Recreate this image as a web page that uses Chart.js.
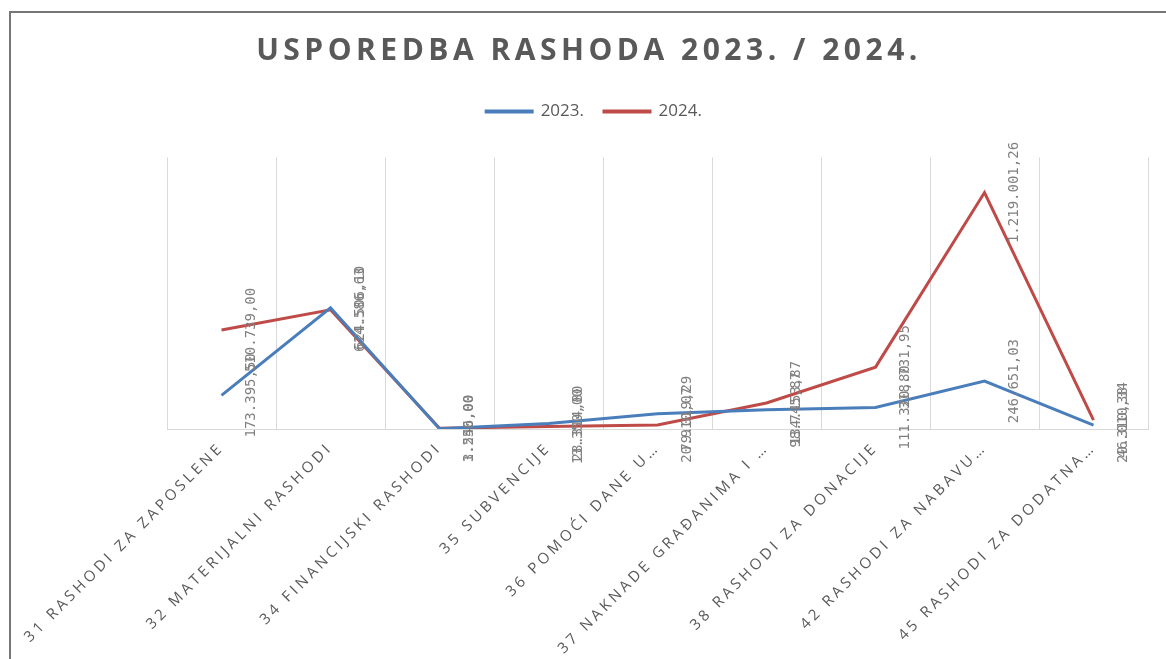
<!DOCTYPE html>
<html>
<head>
<meta charset="utf-8">
<script src="https://cdn.jsdelivr.net/npm/chart.js@4.4.0/dist/chart.umd.min.js"></script>
<style>
  html, body { margin: 0; padding: 0; background: #fff; overflow: hidden; }
  #wrap { position: relative; width: 1166px; height: 659px; }
  #frame { position: absolute; left: 9px; top: 11px; width: 1200px; height: 700px;
    border-top: 2px solid #767676; border-left: 2px solid #767676; pointer-events: none; }
</style>
</head>
<body>
<div id="wrap">
  <canvas id="myChart" width="1166" height="659"></canvas>
  <div id="frame"></div>
</div>
<script>
const labels = [
  "31 RASHODI ZA ZAPOSLENE",
  "32 MATERIJALNI RASHODI",
  "34 FINANCIJSKI RASHODI",
  "35 SUBVENCIJE",
  "36 POMOĆI DANE U…",
  "37 NAKNADE GRAĐANIMA I …",
  "38 RASHODI ZA DONACIJE",
  "42 RASHODI ZA NABAVU…",
  "45 RASHODI ZA DODATNA…",
];
const values2023 = [173395.5, 624506.1, 1250.0, 28314.8, 79019.29, 98745.87, 111320.8, 246651.03, 20310.38];
const values2024 = [510739.0, 614586.63, 3546.0, 13350.0, 20910.07, 134153.87, 318731.95, 1219001.26, 46010.34];

// 1219001.26 -> "1.219.001,26"
function formatHr(v) {
  const parts = v.toFixed(2).split(".");
  const whole = parts[0].replace(/\B(?=(\d{3})+(?!\d))/g, ".");
  return whole + "," + parts[1];
}

// excel style vertical value labels, right of each point
const valueLabels = {
  id: "valueLabels",
  afterDatasetsDraw(chart) {
    const ctx = chart.ctx;
    ctx.save();
    ctx.letterSpacing = "0px";
    ctx.font = '14px "DejaVu Sans Mono"';
    ctx.fillStyle = "#808080";
    ctx.textAlign = "center";
    ctx.textBaseline = "middle";
    chart.data.datasets.forEach((ds, i) => {
      chart.getDatasetMeta(i).data.forEach((pt, j) => {
        ctx.save();
        ctx.translate(pt.x + 30, pt.y);
        ctx.rotate(-Math.PI / 2);
        ctx.fillText(formatHr(ds.data[j]), 0, 0);
        ctx.restore();
      });
    });
    ctx.restore();
  },
};

function withSpacing(box, value, shiftX) {
  const origDraw = box.draw;
  box.draw = function () {
    const ctx = this.ctx;
    ctx.save();
    ctx.letterSpacing = value;
    ctx.translate(shiftX || 0, 0);
    origDraw.apply(this, arguments);
    ctx.restore();
  };
}

// letter spacing: wide title, spaced axis labels, none in the legend
const spacing = {
  id: "spacing",
  beforeUpdate(chart) {
    const lg = chart.legend;
    if (lg && !lg._patched) {
      lg._patched = true;
      const origFit = lg.fit;
      lg.fit = function () {
        origFit.call(this);
        this.height = 74.4;
      };
      withSpacing(lg, "0px", 6);
    }
    const tb = chart.titleBlock;
    if (tb && !tb._patched) {
      tb._patched = true;
      withSpacing(tb, "4.5px", 1);
    }
  },
  beforeDraw(chart) {
    chart.ctx.letterSpacing = "3.5px";
  },
};

const data = {
  labels: labels,
  datasets: [
    {
      label: "2023.",
      data: values2023,
      borderColor: "#4A7EBB",
      backgroundColor: "#4A7EBB",
      borderWidth: 3,
      pointRadius: 0,
      tension: 0,
    },
    {
      label: "2024.",
      data: values2024,
      borderColor: "#BE4B48",
      backgroundColor: "#BE4B48",
      borderWidth: 3,
      pointRadius: 0,
      tension: 0,
    },
  ],
};

const config = {
  type: "line",
  data: data,
  options: {
    responsive: false,
    devicePixelRatio: 1,
    animation: false,
    layout: {
      padding: { left: 28, right: 18, top: 0, bottom: 0 },
    },
    plugins: {
      title: {
        display: true,
        text: "USPOREDBA RASHODA 2023. / 2024.",
        color: "#595959",
        font: { family: "'Open Sans'", size: 30, weight: "bold" },
        padding: { top: 33, bottom: 14 },
      },
      legend: {
        position: "top",
        labels: {
          boxWidth: 46,
          boxHeight: 1,
          padding: 20,
          color: "#595959",
          font: { family: "'Open Sans'", size: 17 },
        },
      },
      tooltip: { enabled: false },
    },
    scales: {
      x: {
        offset: true,
        grid: { offset: true, color: "#d9d9d9", drawTicks: false },
        border: { color: "#d9d9d9" },
        ticks: {
          autoSkip: false,
          minRotation: 45,
          maxRotation: 45,
          padding: 10,
          color: "#595959",
          font: { family: "'Open Sans'", size: 15 },
        },
        afterFit(scale) {
          scale.height = 230;
          scale.paddingLeft = 0;
          scale.paddingRight = 0;
        },
      },
      y: {
        min: 0,
        max: 1400000,
        grid: { display: false },
        border: { display: false },
        ticks: { display: false },
        afterFit(scale) {
          scale.width = 139;
        },
      },
    },
  },
  plugins: [spacing, valueLabels],
};

const myChart = new Chart(document.getElementById("myChart"), config);
</script>
</body>
</html>
